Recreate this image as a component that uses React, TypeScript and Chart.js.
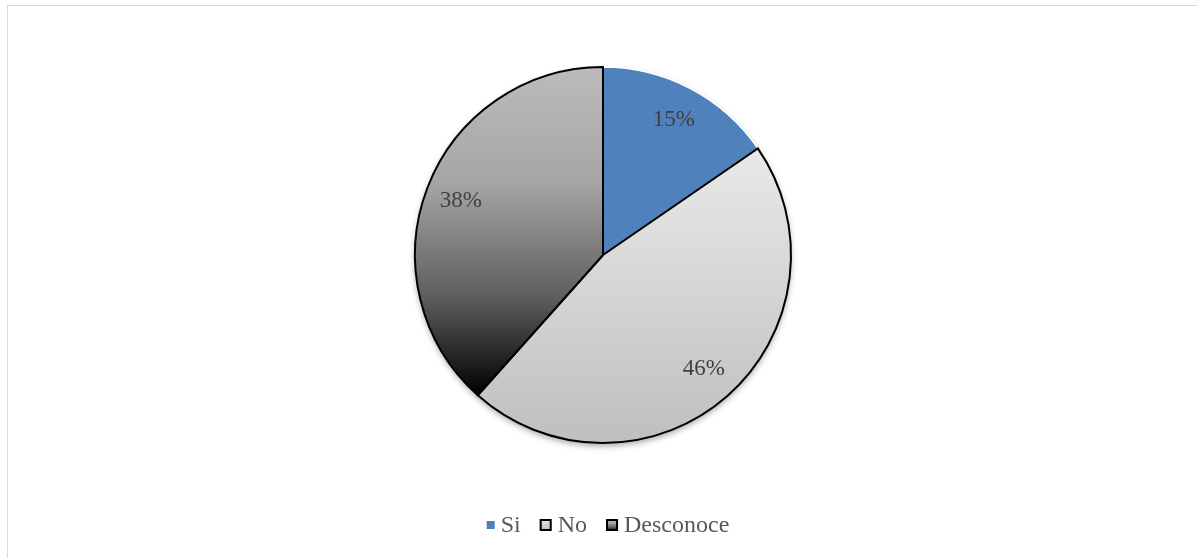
import React, { useEffect, useRef } from "react";
import { Chart, registerables } from "chart.js";

Chart.register(...registerables);

// ---- data ----
const categories = ["Si", "No", "Desconoce"];
const values = [15.4, 46.2, 38.4];
const valueLabels = ["15%", "46%", "38%"];

// ---- styles ----
const RADIUS = 188;
const SERIF = '"Liberation Serif", "Times New Roman", serif';
const BLUE = "#4F81BD";
const NO_STOPS: [number, string][] = [
  [0, "#e9e9e9"],
  [1, "#bfbfbf"],
];
const DES_STOPS: [number, string][] = [
  [0, "#bbbbbb"],
  [0.35, "#a6a6a6"],
  [0.7, "#5e5e5e"],
  [1, "#000000"],
];

function sliceGradient(chart: any, index: number, stops: [number, string][]) {
  const area = chart.chartArea;
  if (!area) return stops[0][1];
  const cx = (area.left + area.right) / 2;
  const cy = (area.top + area.bottom) / 2;
  const total = values.reduce((a, b) => a + b, 0);
  let cum = 0;
  for (let i = 0; i < index; i++) cum += values[i];
  const a0 = -Math.PI / 2 + (2 * Math.PI * cum) / total;
  const a1 = a0 + (2 * Math.PI * values[index]) / total;
  const ys = [cy, cy + RADIUS * Math.sin(a0), cy + RADIUS * Math.sin(a1)];
  for (let k = -2; k <= 2; k++) {
    const t = -Math.PI / 2 + 2 * Math.PI * k;
    if (t >= a0 && t <= a1) ys.push(cy - RADIUS);
    const b = Math.PI / 2 + 2 * Math.PI * k;
    if (b >= a0 && b <= a1) ys.push(cy + RADIUS);
  }
  void cx;
  const g = chart.ctx.createLinearGradient(0, Math.min(...ys), 0, Math.max(...ys));
  stops.forEach(([o, c]) => g.addColorStop(o, c));
  return g;
}

const shadowPlugin = {
  id: "pieShadow",
  beforeDatasetsDraw(chart: any) {
    const meta = chart.getDatasetMeta(0);
    const arc = meta.data[0];
    if (!arc) return;
    const ctx = chart.ctx;
    ctx.save();
    ctx.shadowColor = "rgba(0,0,0,0.35)";
    ctx.shadowBlur = 6;
    ctx.shadowOffsetY = 3;
    ctx.beginPath();
    ctx.arc(arc.x, arc.y, arc.outerRadius, 0, Math.PI * 2);
    ctx.fillStyle = "#ffffff";
    ctx.fill();
    ctx.restore();
  },
};

const labelPlugin = {
  id: "sliceLabels",
  afterDatasetsDraw(chart: any) {
    const ctx = chart.ctx;
    const meta = chart.getDatasetMeta(0);
    ctx.save();
    ctx.font = `23px ${SERIF}`;
    ctx.fillStyle = "#404040";
    ctx.textAlign = "center";
    ctx.textBaseline = "middle";
    meta.data.forEach((arc: any, i: number) => {
      const mid = (arc.startAngle + arc.endAngle) / 2;
      const r = arc.outerRadius * 0.81;
      ctx.fillText(valueLabels[i], arc.x + r * Math.cos(mid), arc.y + r * Math.sin(mid));
    });
    ctx.restore();
  },
};

function drawMarker(ctx: CanvasRenderingContext2D, i: number, x: number, cy: number) {
  if (i === 0) {
    ctx.fillStyle = BLUE;
    ctx.fillRect(x, cy - 4, 8, 8);
    return 8;
  }
  const s = 12;
  const top = cy - s / 2;
  const g = ctx.createLinearGradient(0, top, 0, top + s);
  (i === 1 ? NO_STOPS : DES_STOPS).forEach(([o, c]) => g.addColorStop(o, c));
  ctx.fillStyle = g;
  ctx.fillRect(x, top, s, s);
  ctx.strokeStyle = "#000000";
  ctx.lineWidth = 2;
  ctx.strokeRect(x + 1, top + 1, s - 2, s - 2);
  return s;
}

const legendPlugin = {
  id: "customLegend",
  afterDraw(chart: any) {
    const ctx = chart.ctx as CanvasRenderingContext2D;
    ctx.save();
    ctx.font = `24px ${SERIF}`;
    const boxW = [8, 12, 12];
    const boxGap = 6;
    const itemGap = 19;
    const widths = categories.map((c, i) => boxW[i] + boxGap + ctx.measureText(c).width);
    const total = widths.reduce((a, b) => a + b, 0) + itemGap * (categories.length - 1);
    let x = chart.width / 2 + 5 - total / 2;
    const cy = 519;
    categories.forEach((c, i) => {
      const w = drawMarker(ctx, i, x, cy);
      ctx.fillStyle = "#595959";
      ctx.textBaseline = "middle";
      ctx.textAlign = "left";
      ctx.fillText(c, x + w + boxGap, cy + 1);
      x += widths[i] + itemGap;
    });
    ctx.restore();
  },
};

export default function App() {
  const ref = useRef<HTMLCanvasElement | null>(null);

  useEffect(() => {
    document.body.style.margin = "0";
    if (!ref.current) return;
    const chart = new Chart(ref.current, {
      type: "pie",
      data: {
        labels: categories,
        datasets: [
          {
            data: values,
            radius: RADIUS,
            backgroundColor: (c: any) => {
              if (c.dataIndex === 0) return BLUE;
              if (c.dataIndex === 1) return sliceGradient(c.chart, 1, NO_STOPS);
              return sliceGradient(c.chart, 2, DES_STOPS);
            },
            borderColor: ["#ffffff", "#000000", "#000000"],
            borderWidth: [1.5, 2, 2],
            borderJoinStyle: "miter",
          } as any,
        ],
      },
      options: {
        animation: false,
        responsive: false,
        maintainAspectRatio: false,
        layout: { padding: { top: 0, bottom: 60, left: 0, right: 0 } },
        plugins: {
          legend: { display: false },
          tooltip: { enabled: false },
          title: { display: false },
        },
      },
      plugins: [shadowPlugin, labelPlugin, legendPlugin],
    });
    return () => chart.destroy();
  }, []);

  return (
    <div
      style={{
        position: "absolute",
        left: 7,
        top: 5,
        width: 1192,
        height: 560,
        border: "1px solid #d9d9d9",
        boxSizing: "border-box",
        background: "#ffffff",
      }}
    >
      <canvas ref={ref} width={1190} height={558} style={{ display: "block" }} />
    </div>
  );
}
